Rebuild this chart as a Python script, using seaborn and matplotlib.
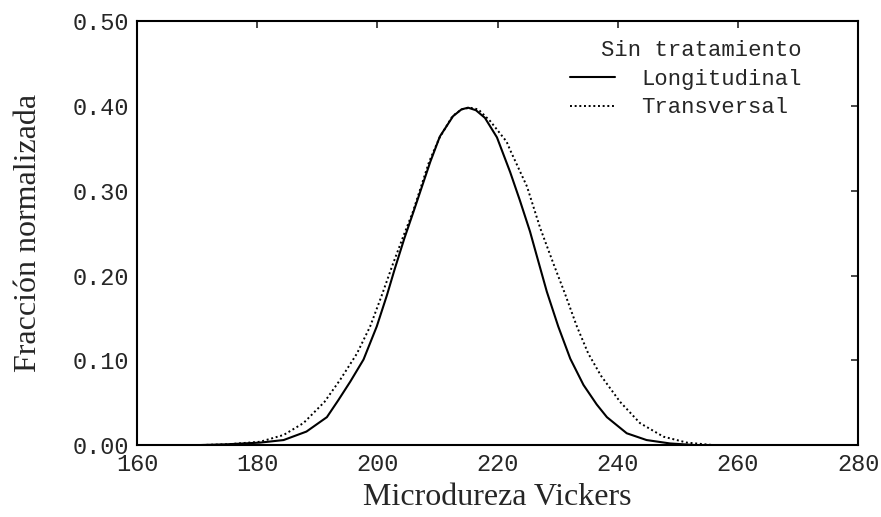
import pandas as pd
import matplotlib.pyplot as plt
import seaborn as sns

# valores
long_x = [170, 175, 180.5, 184.4, 188.2, 191.6, 193.5, 195.5, 197.7, 199.9, 201.6,
          202.9, 204.5, 206.0, 208.8, 210.4, 212.6, 214.0, 215.1, 216.4, 217.9,
          219.9, 222.1, 223.7, 225.4, 226.5, 228.2, 230.1, 232.1, 234.3, 236.5,
          238.2, 241.5, 244.8, 248.7, 253, 258]
long_y = [0.0, 0.001, 0.003, 0.006, 0.016, 0.033, 0.053, 0.075, 0.101, 0.140, 0.177,
          0.208, 0.244, 0.275, 0.334, 0.364, 0.388, 0.396, 0.398, 0.395, 0.386,
          0.363, 0.322, 0.289, 0.252, 0.224, 0.181, 0.140, 0.102, 0.071, 0.048,
          0.033, 0.014, 0.006, 0.002, 0.0, 0.0]

trans_x = [170, 175, 180.5, 184.4, 187.7, 191.2, 193.8, 196.6, 198.8, 200.7, 202.5,
           204.3, 205.9, 208.6, 210.3, 212.5, 214.0, 215.4, 216.8, 218.8, 221.5,
           222.1, 224.9, 227.1, 229.3, 231.2, 233.2, 235.1, 237.2, 240.4, 243.7,
           247.6, 251.5, 256, 260]
trans_y = [0.0, 0.001, 0.004, 0.012, 0.026, 0.051, 0.077, 0.108, 0.140, 0.176, 0.212,
           0.246, 0.275, 0.334, 0.362, 0.388, 0.396, 0.398, 0.396, 0.382, 0.358,
           0.348, 0.305, 0.256, 0.214, 0.179, 0.140, 0.108, 0.082, 0.051, 0.026,
           0.010, 0.003, 0.0, 0.0]

sns.set_style("white")

fig = plt.figure(figsize=(8.81, 5.17), dpi=100)
ax = fig.add_axes([0.1555, 0.139, 0.8185, 0.82])

sns.lineplot(x=long_x, y=long_y, color="black", lw=1.5, label="Longitudinal", ax=ax)
sns.lineplot(x=trans_x, y=trans_y, color="black", lw=1.4, ls=(0, (1, 1.4)),
             label="Transversal", ax=ax)

ax.set_xlim(160, 280)
ax.set_ylim(0, 0.5)
ax.set_xticks(range(160, 281, 20))
ax.set_yticks([0, 0.1, 0.2, 0.3, 0.4, 0.5])
ax.set_yticklabels(["0.00", "0.10", "0.20", "0.30", "0.40", "0.50"])
ax.tick_params(direction="in", length=5, width=1.2, top=True, right=True,
               labelsize=17, pad=6)
for lab in ax.get_xticklabels() + ax.get_yticklabels():
    lab.set_family("Liberation Mono")
for s in ax.spines.values():
    s.set_color("black")
    s.set_linewidth(1.5)

ax.set_xlabel("Microdureza Vickers", family="Liberation Serif", fontsize=23, labelpad=5)
ax.set_ylabel("Fracción normalizada", family="Liberation Serif", fontsize=23, labelpad=21)

leg = ax.legend(title="Sin tratamiento", frameon=False, loc="upper right",
                bbox_to_anchor=(0.947, 0.998), handlelength=2.0, handletextpad=1.2,
                labelspacing=0.35, borderpad=0.3, alignment="right",
                prop={"family": "Liberation Mono", "size": 16})
leg.get_title().set_family("Liberation Mono")
leg.get_title().set_fontsize(16)

plt.savefig("out.png")
